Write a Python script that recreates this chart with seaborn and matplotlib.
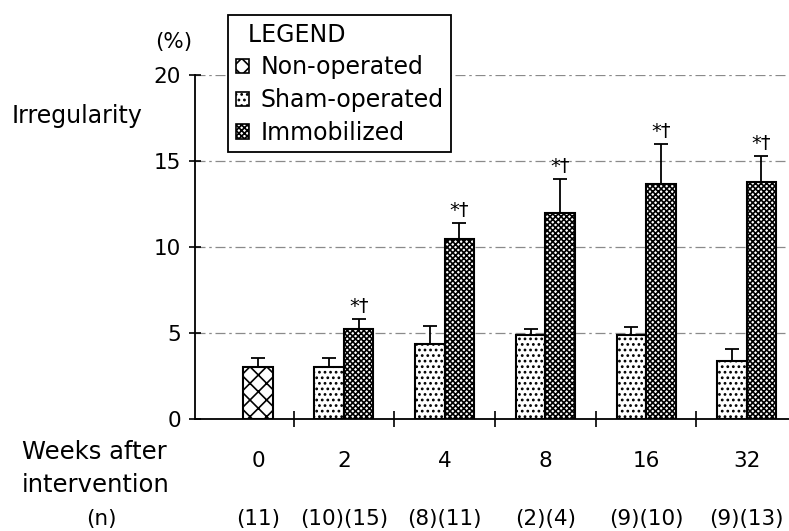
import numpy as np
import pandas as pd
import matplotlib
matplotlib.use("Agg")
import matplotlib.pyplot as plt
import seaborn as sns
from matplotlib.patches import Patch
from matplotlib.transforms import blended_transform_factory

# ---------------- data ----------------
weeks = ["0", "2", "4", "8", "16", "32"]
non_operated_weeks = ["0"]
non_operated = [3.05]
non_operated_err = [0.5]
treated_weeks = ["2", "4", "8", "16", "32"]
sham = [3.05, 4.35, 4.92, 4.92, 3.40]
sham_err = [0.5, 1.05, 0.30, 0.45, 0.67]
immobilized = [5.23, 10.45, 11.97, 13.69, 13.79]
immobilized_err = [0.62, 0.97, 2.00, 2.30, 1.52]
significance = ["*†", "*†", "*†", "*†", "*†"]
n_labels = ["(11)", "(10)(15)", "(8)(11)", "(2)(4)", "(9)(10)", "(9)(13)"]
y_ticks = [0, 5, 10, 15, 20]
groups = ["Non-operated", "Sham-operated", "Immobilized"]

# ---------------- style ----------------
sns.set_theme(style="white")
plt.rcParams["font.family"] = ["DejaVu Sans"]
plt.rcParams["hatch.linewidth"] = 1.2
plt.rcParams["hatch.color"] = "black"
plt.rcParams["text.color"] = "black"
plt.rcParams["xtick.color"] = "black"
plt.rcParams["ytick.color"] = "black"
plt.rcParams["axes.labelcolor"] = "black"

hatches = {"Non-operated": "xx", "Sham-operated": "...", "Immobilized": "xxxxxx"}

rows = []
for w, v, e in zip(non_operated_weeks, non_operated, non_operated_err):
    rows.append(dict(week=w, group="Non-operated", slot="right", value=v, err=e, sig=""))
for w, v, e in zip(treated_weeks, sham, sham_err):
    rows.append(dict(week=w, group="Sham-operated", slot="left", value=v, err=e, sig=""))
for w, v, e, s in zip(treated_weeks, immobilized, immobilized_err, significance):
    rows.append(dict(week=w, group="Immobilized", slot="right", value=v, err=e, sig=s))
df = pd.DataFrame(rows)

W, H = 789, 531
fig = plt.figure(figsize=(W / 100, H / 100), dpi=100)
ax = fig.add_axes([195 / W, 1 - 419.3 / H, 1 - 195 / W, (419.3 - 75) / H])

sns.barplot(data=df, x="week", y="value", hue="slot", order=weeks,
            hue_order=["left", "right"], dodge=True, width=0.586,
            errorbar=None, legend=False, ax=ax, saturation=1,
            palette={"left": "white", "right": "white"},
            edgecolor="black", linewidth=1.5)

first_center = None
for slot, cont in zip(["left", "right"], ax.containers):
    sub = df[df["slot"] == slot].copy()
    sub["pos"] = sub["week"].map(weeks.index)
    sub = sub.sort_values("pos")
    for patch, (_, r) in zip(cont, sub.iterrows()):
        patch.set_hatch(hatches[r["group"]])
        cx = patch.get_x() + patch.get_width() / 2
        top = patch.get_height()
        if r["week"] == weeks[0]:
            first_center = cx
        ax.errorbar(cx, top, yerr=[[0], [r["err"]]], fmt="none", ecolor="black",
                    elinewidth=1.3, capsize=5, capthick=1.3, zorder=4)
        if r["sig"]:
            ax.annotate(r["sig"], (cx, top + r["err"]), xytext=(0, 2),
                        textcoords="offset points", ha="center", va="bottom",
                        fontsize=14, color="black")

# ---------------- axes ----------------
ax.set_xlim(-0.479, 5.42)
ax.set_ylim(0, 20)
ax.set_xlabel("")
ax.set_ylabel("")
ax.set_yticks(y_ticks)
ax.set_yticklabels([str(t) for t in y_ticks], fontsize=15.5)
ax.tick_params(axis="y", direction="inout", length=8, width=1.2, pad=6,
               colors="black", left=True)

xpos = [first_center] + list(range(1, len(weeks)))
ax.set_xticks(xpos)
ax.set_xticklabels(weeks, fontsize=15.5)
ax.tick_params(axis="x", which="major", length=0, pad=23, colors="black")
ax.set_xticks(np.arange(0.5, len(weeks) - 1, 1.0), minor=True)
ax.tick_params(axis="x", which="minor", direction="inout", length=11, width=1.2,
               bottom=True, colors="black")

for side in ["top", "right"]:
    ax.spines[side].set_visible(False)
for side in ["left", "bottom"]:
    ax.spines[side].set_color("black")
    ax.spines[side].set_linewidth(1.3)

ax.set_axisbelow(True)
ax.yaxis.grid(True, color="#8a8a8a", linestyle=(0, (8, 3, 2, 3)), linewidth=0.9)
ax.xaxis.grid(False)

# ---------------- legend ----------------
handles = [Patch(facecolor="white", edgecolor="black", hatch=hatches[g], linewidth=1.2)
           for g in groups]
leg = ax.legend(handles, groups, title="\u2002LEGEND", loc="upper left",
                bbox_to_anchor=(228 / W, 1 - 15 / H), bbox_transform=fig.transFigure,
                frameon=True, fancybox=False, framealpha=1, edgecolor="black",
                fontsize=17, title_fontsize=17, handlelength=0.55, handleheight=0.55,
                handletextpad=0.5, labelspacing=0.37, borderpad=0.32,
                borderaxespad=0, alignment="left")
leg.get_frame().set_linewidth(1.3)
leg.set_clip_on(False)

# ---------------- texts ----------------
fig.text(174 / W, 1 - 42 / H, "(%)", ha="center", va="center", fontsize=15.5)
fig.text(12 / W, 1 - 123 / H, "Irregularity", ha="left", va="baseline", fontsize=17)
fig.text(22 / W, 1 - 492 / H, "Weeks after\nintervention", ha="left", va="baseline",
         fontsize=17.5, linespacing=1.45)
fig.text(101 / W, 1 - 519 / H, "(n)", ha="center", va="center", fontsize=15.5)
tr = blended_transform_factory(ax.transData, fig.transFigure)
for x, lab in zip(xpos, n_labels):
    ax.text(x, 1 - 519 / H, lab, transform=tr, ha="center", va="center",
            fontsize=15.5, clip_on=False)

fig.savefig("out.png", dpi=100)
